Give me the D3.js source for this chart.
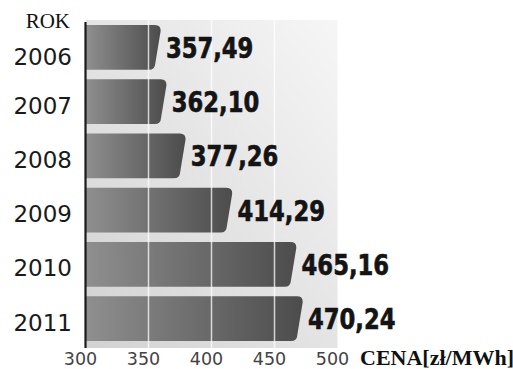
<!DOCTYPE html>
<html>
<head>
<meta charset="utf-8">
<script src="https://cdn.jsdelivr.net/npm/d3@7"></script>
<style>
  html, body { margin: 0; padding: 0; background: #fff; }
  svg { display: block; }
</style>
</head>
<body>
<script>
// Ceny energii wg roku
const years = ["2006", "2007", "2008", "2009", "2010", "2011"];
const prices = [357.49, 362.10, 377.26, 414.29, 465.16, 470.24];
const xTicks = [300, 350, 400, 450, 500];
const gridTicks = [350, 400, 450];

const width = 513, height = 369;
const plotTop = 20, plotBottom = 348;

const x = d3.scaleLinear().domain([300, 500]).range([85.5, 337.5]);
const y = d3.scaleBand().domain(years)
  .range([plotTop, plotBottom - 2])
  .paddingInner(0.176).paddingOuter(0.09);

const fmt = v => v.toFixed(2).replace(".", ",");

const svg = d3.select("body").append("svg")
  .attr("width", width).attr("height", height)
  .attr("viewBox", [0, 0, width, height]);

const defs = svg.append("defs");

// panel background: darker bottom-left, lighter top-right
const panelGrad = defs.append("linearGradient").attr("id", "panelGrad")
  .attr("x1", 0).attr("y1", 1).attr("x2", 1).attr("y2", 0);
panelGrad.append("stop").attr("offset", "0%").attr("stop-color", "#d2d2d2");
panelGrad.append("stop").attr("offset", "55%").attr("stop-color", "#e6e6e6");
panelGrad.append("stop").attr("offset", "100%").attr("stop-color", "#f6f6f6");

const barGrad = defs.append("linearGradient").attr("id", "barGrad")
  .attr("x1", 0).attr("y1", 0).attr("x2", 1).attr("y2", 0);
barGrad.append("stop").attr("offset", "0%").attr("stop-color", "#8f8f8f");
barGrad.append("stop").attr("offset", "100%").attr("stop-color", "#4c4c4c");

svg.append("rect")
  .attr("x", x(300)).attr("y", plotTop)
  .attr("width", x(500) - x(300)).attr("height", plotBottom - plotTop)
  .attr("fill", "url(#panelGrad)");

// bar with slanted, rounded right end
function barPath(v, yTop, h) {
  const x0 = x(300), xe = x(v), r = 6;
  const xt = xe + 3, xb = xe - 3;
  return `M${x0},${yTop}
    L${xt - r},${yTop}
    Q${xt},${yTop} ${xt - 0.3},${yTop + r}
    L${xb + 0.3},${yTop + h - r}
    Q${xb},${yTop + h} ${xb - r},${yTop + h}
    L${x0},${yTop + h} Z`;
}

svg.append("g").selectAll("path")
  .data(years)
  .join("path")
  .attr("d", (d, i) => barPath(prices[i], y(d), y.bandwidth()))
  .attr("fill", "url(#barGrad)");

// gridlines over bars
svg.append("g").selectAll("line")
  .data(gridTicks)
  .join("line")
  .attr("x1", d => x(d)).attr("x2", d => x(d))
  .attr("y1", plotTop).attr("y2", plotBottom)
  .attr("stroke", "#fff").attr("stroke-opacity", 0.75).attr("stroke-width", 1.5);

// axis line
svg.append("line")
  .attr("x1", x(300)).attr("x2", x(300))
  .attr("y1", plotTop + 2).attr("y2", plotBottom)
  .attr("stroke", "#1a1a1a").attr("stroke-width", 2.2);

// value labels (condensed, squeezed a bit more)
svg.append("g").selectAll("text")
  .data(years)
  .join("text")
  .attr("transform", (d, i) =>
    `translate(${x(prices[i]) + 8},${y(d) + y.bandwidth() / 2 + 10.5}) scale(0.9,1)`)
  .attr("font-family", "'DejaVu Sans Condensed', 'DejaVu Sans', sans-serif")
  .attr("font-stretch", "condensed")
  .attr("font-weight", "bold")
  .attr("font-size", 28)
  .attr("fill", "#141414")
  .attr("stroke", "#141414").attr("stroke-width", 0.6)
  .text((d, i) => fmt(prices[i]));

// year labels
svg.append("g").selectAll("text")
  .data(years)
  .join("text")
  .attr("x", 72)
  .attr("y", (d, i) => y(d) + y.bandwidth() / 2 + (i === 0 ? 18 : 12))
  .attr("text-anchor", "end")
  .attr("font-family", "'DejaVu Sans', sans-serif")
  .attr("font-size", 23)
  .attr("fill", "#1a1a1a")
  .text(d => d);

// x tick labels
svg.append("g").selectAll("text")
  .data(xTicks)
  .join("text")
  .attr("x", d => x(d) - 5)
  .attr("y", 365)
  .attr("text-anchor", "middle")
  .attr("font-family", "'DejaVu Sans', sans-serif")
  .attr("font-size", 17.5)
  .attr("fill", "#444")
  .text(d => d);

svg.append("text")
  .attr("x", 70).attr("y", 28)
  .attr("text-anchor", "end")
  .attr("font-family", "'Liberation Serif', 'Times New Roman', serif")
  .attr("font-size", 21)
  .attr("fill", "#111")
  .text("ROK");

svg.append("text")
  .attr("x", 360).attr("y", 365)
  .attr("font-family", "'Liberation Serif', 'Times New Roman', serif")
  .attr("font-weight", "bold")
  .attr("font-size", 22)
  .attr("fill", "#111")
  .text("CENA[zł/MWh]");
</script>
</body>
</html>
